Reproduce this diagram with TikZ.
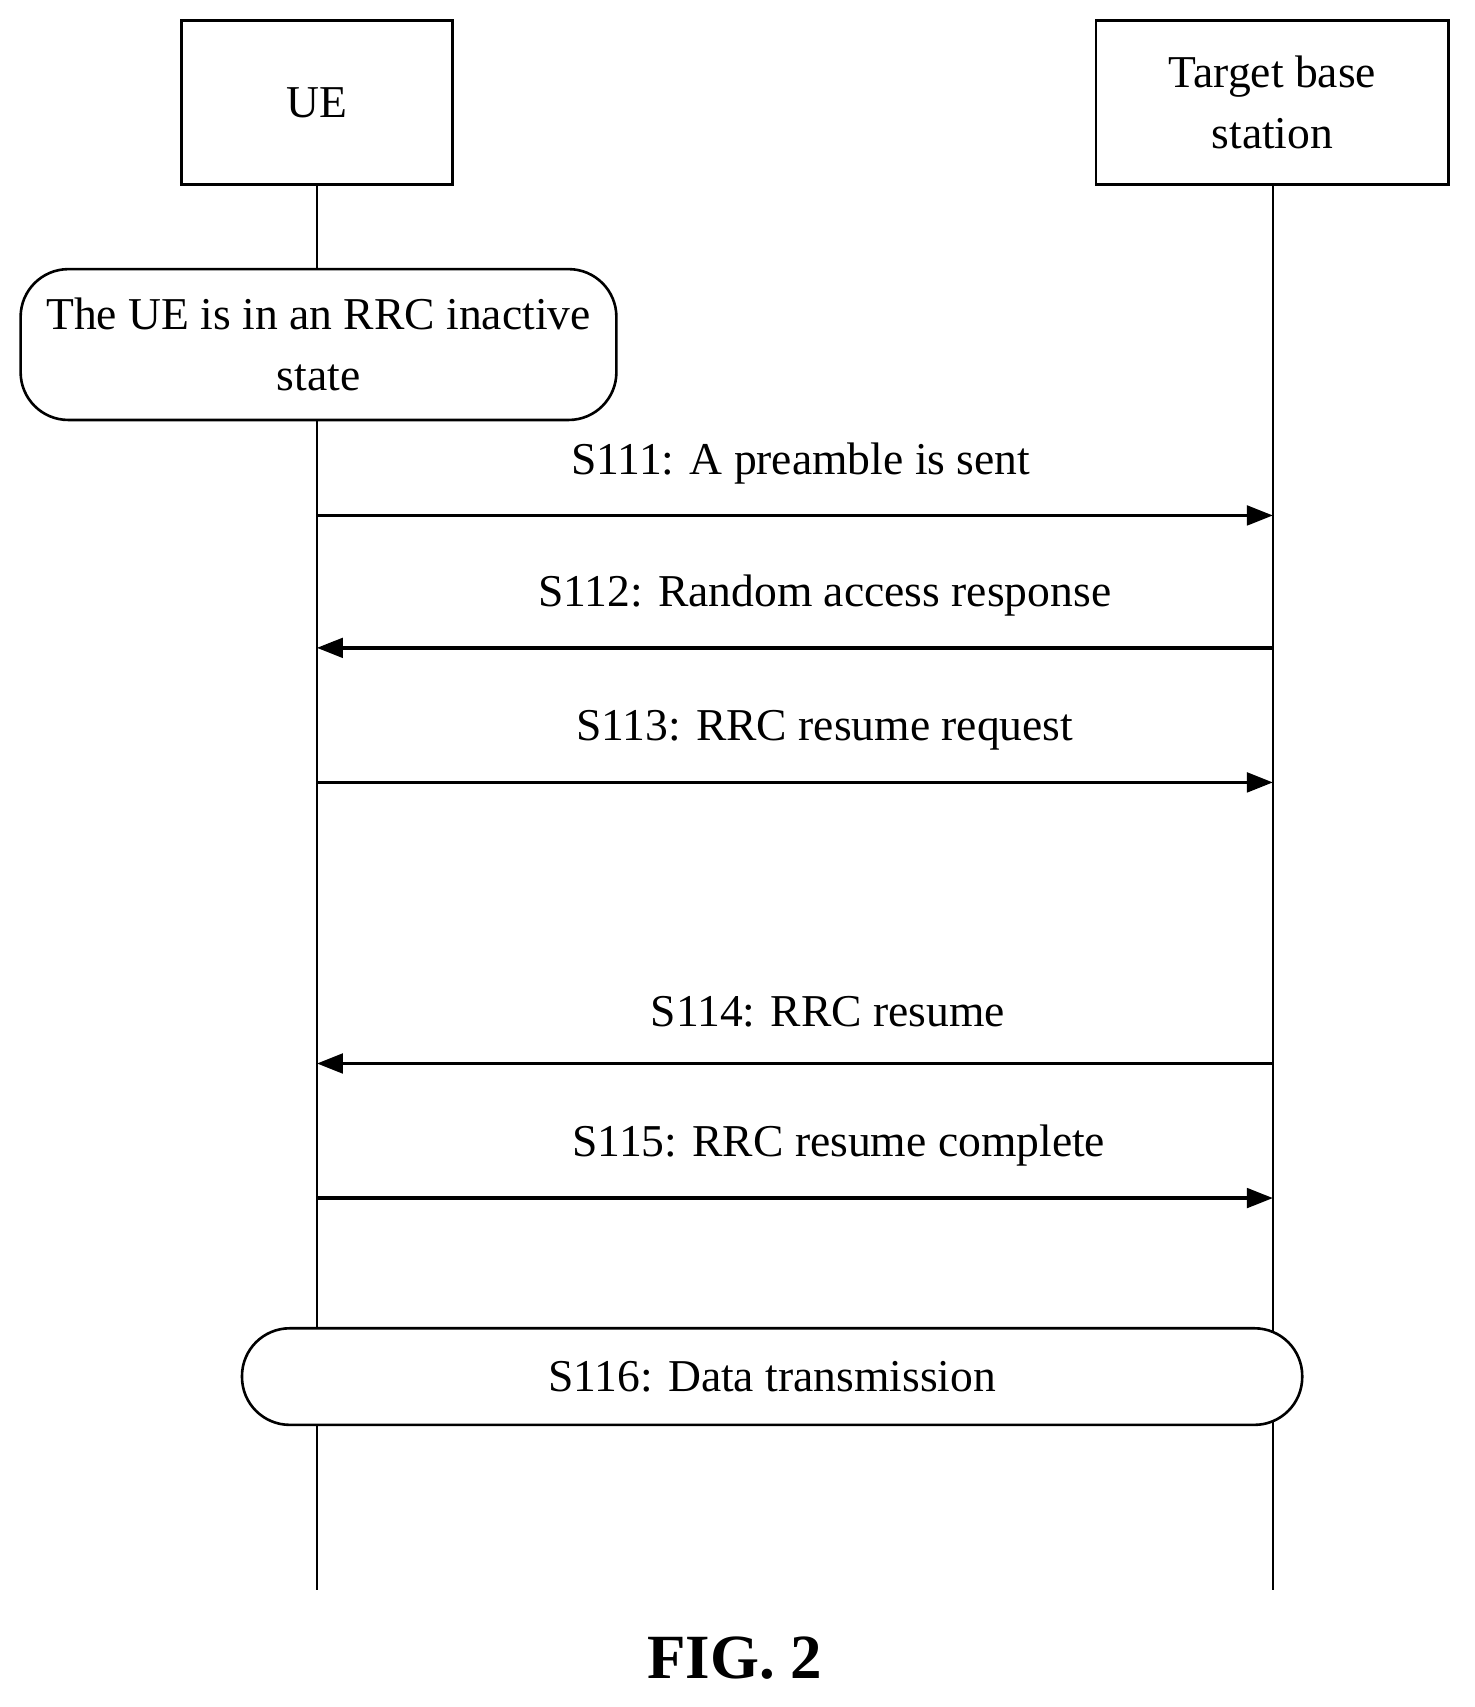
\documentclass[tikz,border=0pt]{standalone}
\usepackage{fontspec}
\setmainfont{Liberation Serif}
\usetikzlibrary{arrows.meta, positioning}
\tikzset{
  entity/.style={draw, line width=1.2pt, align=center, inner sep=0pt},
  state/.style={draw, line width=1.2pt, rounded corners=22pt, align=center, inner sep=0pt},
  msg/.style={line width=1.6pt, -{Triangle[length=12pt,width=9pt]}},
  lbl/.style={font=\fontsize{21}{24}\selectfont}
}
\begin{document}
\begin{tikzpicture}[x=0.5pt, y=-0.5pt, font=\fontsize{21}{28}\selectfont]
\useasboundingbox (0,0) rectangle (1359,1573);

% Entities
\node[entity, minimum width=125pt, minimum height=75.5pt] (ue) at (292,94.5) {UE};
\node[entity, minimum width=162.5pt, minimum height=75.5pt] (bs) at (1172.5,94.5) {Target base\\station};

% Lifelines
\coordinate (ueend) at (292,1465);
\coordinate (bsend) at (1173,1465);
\draw[line width=1pt] (ue.south) -- (ueend);
\draw[line width=1pt] (bs.south -| bsend) -- (bsend);

% States
\node[state, fill=white, minimum width=274.5pt, minimum height=69.5pt] (inactive) at (293.5,317.5) {The UE is in an RRC inactive\\state};
\node[state, fill=white, minimum width=488.5pt, minimum height=44.5pt] (data) at (711.5,1268.5) {S116: Data transmission};

% Messages
\foreach \y/\from/\to/\lx/\txt in {475/ue/bs/738/{S111: A preamble is sent}, 597/bs/ue/760/{S112: Random access response},
  721/ue/bs/760/{S113: RRC resume request}, 980/bs/ue/763/{S114: RRC resume}, 1104/ue/bs/773/{S115: RRC resume complete}} {
  \coordinate (ue\y) at (292,\y);
  \coordinate (bs\y) at (1173,\y);
  \draw[msg] (\from\y) -- (\to\y);
  \node[lbl] (l\y) at (\lx,\y-48) {\txt};
}

% Caption
\node[font=\fontsize{29}{32}\selectfont\bfseries] (fig) at (677,1528) {FIG. 2};
\end{tikzpicture}
\end{document}
